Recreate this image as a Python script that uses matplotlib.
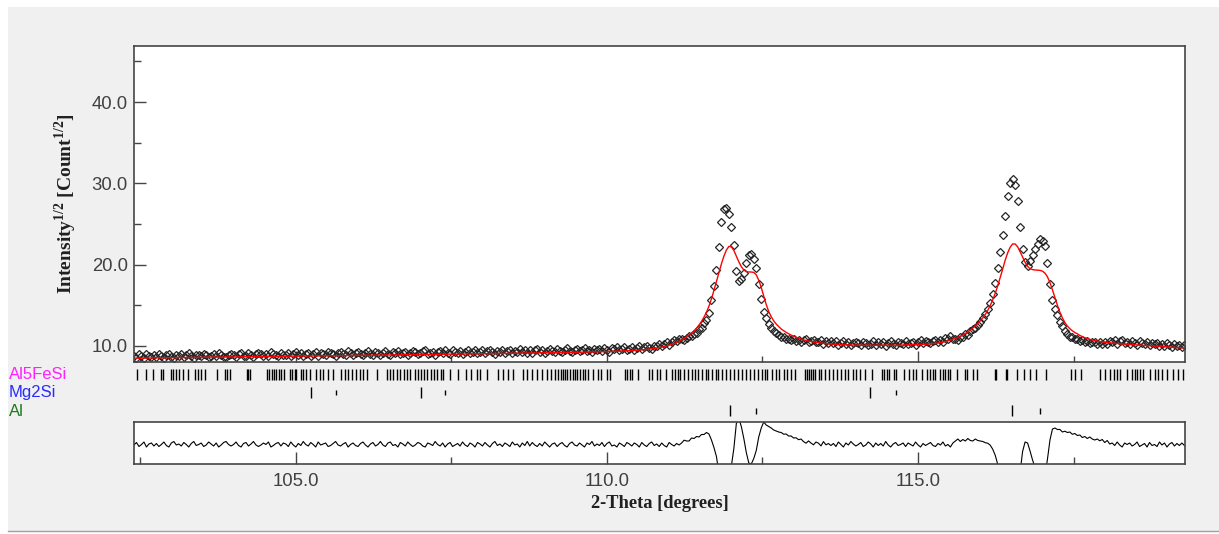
import numpy as np
import matplotlib.pyplot as plt
from matplotlib.patches import Rectangle
from matplotlib.lines import Line2D

plt.rcParams["font.family"] = ["Liberation Sans", "DejaVu Sans"]
plt.rcParams["mathtext.fontset"] = "custom"
plt.rcParams["mathtext.rm"] = "Liberation Serif:bold"
plt.rcParams["mathtext.bf"] = "Liberation Serif:bold"

# ---- data -------------------------------------------------------------
# scan: start and step of 2-theta (degrees)
tt_start = 102.40
tt_step = 0.04

# observed intensity^(1/2)
y_obs = [
    8.80, 8.55, 8.96, 8.76, 8.52, 9.02, 8.72, 8.63, 8.93, 8.69,
    8.99, 8.80, 8.55, 8.90, 9.06, 8.66, 8.52, 8.87, 8.77, 8.98,
    8.63, 8.84, 9.09, 8.74, 8.55, 8.95, 8.85, 8.71, 9.06, 8.92,
    8.62, 8.82, 9.03, 8.73, 9.13, 8.94, 8.69, 8.60, 8.90, 9.05,
    8.91, 8.66, 9.01, 9.17, 8.82, 8.73, 9.08, 8.88, 8.64, 8.99,
    9.14, 9.00, 8.80, 8.96, 8.71, 9.21, 9.07, 8.87, 8.77, 9.13,
    8.83, 8.94, 9.19, 8.74, 9.05, 9.25, 8.90, 9.11, 8.71, 9.02,
    9.17, 8.82, 9.03, 9.28, 8.78, 9.09, 8.99, 8.90, 9.25, 9.15,
    8.96, 8.76, 9.11, 9.22, 9.02, 8.88, 9.33, 9.08, 8.94, 9.19,
    9.29, 9.00, 8.85, 9.16, 9.36, 9.06, 8.92, 9.27, 9.13, 8.83,
    9.18, 9.34, 8.99, 8.90, 9.25, 9.15, 9.41, 8.96, 9.12, 9.32,
    8.92, 9.18, 9.38, 9.24, 8.99, 9.09, 9.35, 9.45, 9.06, 9.16,
    9.31, 8.92, 9.22, 9.38, 9.08, 9.49, 9.19, 9.04, 9.45, 9.30,
    9.16, 9.41, 9.01, 9.32, 9.47, 9.13, 9.28, 9.54, 9.09, 9.24,
    9.45, 9.10, 9.36, 9.56, 9.22, 9.02, 9.43, 9.28, 9.53, 9.19,
    9.34, 9.55, 9.10, 9.41, 9.31, 9.62, 9.22, 9.48, 9.08, 9.54,
    9.19, 9.45, 9.60, 9.31, 9.56, 9.17, 9.42, 9.68, 9.39, 9.29,
    9.64, 9.39, 9.25, 9.55, 9.71, 9.36, 9.22, 9.52, 9.63, 9.33,
    9.54, 9.74, 9.35, 9.51, 9.21, 9.67, 9.48, 9.63, 9.34, 9.75,
    9.46, 9.32, 9.73, 9.64, 9.85, 9.46, 9.62, 9.84, 9.45, 9.62,
    9.83, 9.55, 9.72, 9.99, 9.57, 9.85, 10.03, 9.76, 9.65, 10.04,
    9.94, 10.25, 9.96, 10.28, 10.51, 10.15, 10.45, 10.71, 10.58, 10.86,
    10.85, 10.75, 11.03, 11.25, 11.20, 11.53, 11.65, 12.08, 12.27, 12.80,
    13.20, 14.10, 15.60, 17.40, 19.40, 22.20, 25.20, 26.90, 27.00, 26.20,
    24.60, 22.40, 19.20, 18.00, 18.20, 19.00, 20.20, 21.20, 21.30, 20.70,
    19.60, 17.60, 15.80, 14.15, 13.40, 12.70, 12.20, 11.90, 11.60, 11.40,
    11.15, 11.10, 10.88, 10.90, 10.74, 10.80, 10.65, 10.72, 10.55, 10.72,
    10.80, 10.50, 10.66, 10.77, 10.44, 10.52, 10.75, 10.28, 10.57, 10.41,
    10.59, 10.37, 10.65, 10.18, 10.42, 10.65, 10.24, 10.43, 10.07, 10.31,
    10.50, 10.35, 10.14, 10.54, 10.38, 10.08, 10.28, 10.58, 10.18, 10.43,
    10.23, 10.48, 10.03, 10.39, 10.59, 10.29, 10.15, 10.45, 10.36, 10.21,
    10.57, 10.23, 10.39, 10.55, 10.16, 10.47, 10.69, 10.35, 10.57, 10.44,
    10.31, 10.64, 10.78, 10.52, 10.72, 10.48, 10.95, 10.88, 11.22, 10.92,
    10.83, 10.76, 11.15, 11.11, 11.44, 11.39, 11.81, 12.10, 12.16, 12.60,
    13.00, 13.40, 13.95, 14.50, 15.30, 16.40, 17.80, 19.60, 21.60, 23.70,
    26.00, 28.40, 30.00, 30.50, 29.80, 27.80, 24.60, 21.90, 20.30, 19.90,
    20.40, 21.20, 21.90, 22.60, 23.10, 22.90, 22.30, 20.20, 17.60, 15.60,
    14.55, 13.75, 12.90, 12.45, 11.80, 11.50, 11.12, 11.09, 10.81, 10.85,
    10.60, 10.70, 10.47, 10.56, 10.31, 10.43, 10.46, 10.30, 10.43, 10.25,
    10.51, 10.27, 10.59, 10.46, 10.68, 10.30, 10.58, 10.75, 10.33, 10.46,
    10.29, 10.57, 10.40, 10.13, 10.56, 10.39, 10.22, 10.55, 10.08, 10.36,
    10.24, 10.42, 9.95, 10.23, 10.01, 10.39, 10.07, 9.90, 10.23, 9.96,
    10.14, 9.87, 10.10,
]

# calculated profile
y_calc = [
    8.50, 8.50, 8.51, 8.51, 8.52, 8.52, 8.52, 8.53, 8.53, 8.54,
    8.54, 8.55, 8.55, 8.55, 8.56, 8.56, 8.57, 8.57, 8.57, 8.58,
    8.58, 8.59, 8.59, 8.59, 8.60, 8.60, 8.60, 8.61, 8.61, 8.62,
    8.62, 8.62, 8.63, 8.63, 8.63, 8.64, 8.64, 8.65, 8.65, 8.65,
    8.66, 8.66, 8.66, 8.67, 8.67, 8.68, 8.68, 8.68, 8.69, 8.69,
    8.69, 8.70, 8.70, 8.71, 8.71, 8.71, 8.72, 8.72, 8.72, 8.73,
    8.73, 8.74, 8.74, 8.74, 8.75, 8.75, 8.75, 8.76, 8.76, 8.77,
    8.77, 8.77, 8.78, 8.78, 8.78, 8.79, 8.79, 8.80, 8.80, 8.80,
    8.81, 8.81, 8.81, 8.82, 8.82, 8.83, 8.83, 8.83, 8.84, 8.84,
    8.84, 8.85, 8.85, 8.86, 8.86, 8.86, 8.87, 8.87, 8.88, 8.88,
    8.88, 8.89, 8.89, 8.90, 8.90, 8.90, 8.91, 8.91, 8.92, 8.92,
    8.92, 8.93, 8.93, 8.94, 8.94, 8.94, 8.95, 8.95, 8.96, 8.96,
    8.96, 8.97, 8.97, 8.98, 8.98, 8.99, 8.99, 8.99, 9.00, 9.00,
    9.01, 9.01, 9.01, 9.02, 9.02, 9.03, 9.03, 9.04, 9.04, 9.04,
    9.05, 9.05, 9.06, 9.06, 9.07, 9.07, 9.08, 9.08, 9.08, 9.09,
    9.09, 9.10, 9.10, 9.11, 9.11, 9.12, 9.12, 9.13, 9.13, 9.14,
    9.14, 9.15, 9.15, 9.16, 9.16, 9.17, 9.17, 9.18, 9.19, 9.19,
    9.19, 9.19, 9.20, 9.20, 9.21, 9.21, 9.22, 9.22, 9.23, 9.23,
    9.24, 9.24, 9.25, 9.26, 9.26, 9.27, 9.28, 9.28, 9.29, 9.30,
    9.31, 9.32, 9.33, 9.34, 9.35, 9.36, 9.37, 9.39, 9.40, 9.42,
    9.43, 9.45, 9.47, 9.49, 9.52, 9.55, 9.58, 9.61, 9.65, 9.69,
    9.74, 9.80, 9.86, 9.93, 10.01, 10.10, 10.20, 10.31, 10.43, 10.56,
    10.75, 10.93, 11.13, 11.35, 11.60, 11.88, 12.20, 12.58, 13.02, 13.55,
    14.15, 14.90, 15.80, 16.85, 17.95, 19.05, 20.10, 21.05, 21.80, 22.25,
    22.20, 21.75, 21.05, 20.35, 19.75, 19.35, 19.15, 19.10, 19.10, 19.05,
    18.75, 18.10, 17.20, 16.15, 15.10, 14.25, 13.60, 13.10, 12.70, 12.40,
    12.10, 11.88, 11.68, 11.50, 11.34, 11.20, 11.07, 10.95, 10.85, 10.76,
    10.68, 10.61, 10.55, 10.49, 10.44, 10.40, 10.36, 10.32, 10.29, 10.26,
    10.24, 10.22, 10.20, 10.18, 10.17, 10.15, 10.14, 10.13, 10.12, 10.11,
    10.10, 10.10, 10.09, 10.09, 10.08, 10.08, 10.08, 10.08, 10.08, 10.08,
    10.08, 10.08, 10.08, 10.09, 10.09, 10.09, 10.10, 10.10, 10.11, 10.11,
    10.12, 10.13, 10.14, 10.15, 10.16, 10.17, 10.19, 10.20, 10.22, 10.24,
    10.26, 10.29, 10.33, 10.37, 10.42, 10.48, 10.55, 10.63, 10.72, 10.82,
    10.93, 11.06, 11.20, 11.36, 11.54, 11.74, 11.96, 12.20, 12.46, 12.75,
    13.10, 13.45, 13.88, 14.38, 14.98, 15.68, 16.48, 17.38, 18.40, 19.45,
    20.55, 21.45, 22.15, 22.55, 22.55, 22.20, 21.60, 20.95, 20.30, 19.80,
    19.50, 19.40, 19.35, 19.33, 19.30, 19.20, 18.95, 18.50, 17.80, 16.90,
    15.95, 15.00, 14.15, 13.45, 12.88, 12.45, 12.12, 11.86, 11.66, 11.50,
    11.30, 11.15, 11.02, 10.91, 10.81, 10.73, 10.66, 10.60, 10.55, 10.50,
    10.46, 10.42, 10.39, 10.36, 10.33, 10.30, 10.28, 10.25, 10.23, 10.21,
    10.19, 10.17, 10.15, 10.13, 10.11, 10.09, 10.07, 10.05, 10.03, 10.01,
    9.99, 9.97, 9.95, 9.93, 9.91, 9.89, 9.87, 9.85, 9.83, 9.81,
    9.79, 9.77, 9.75,
]

# reflection positions (2-theta) per phase
al5fesi_pos = [
    102.45, 102.60, 102.71, 102.83, 102.87, 103.00, 103.03, 103.08, 103.12, 103.19,
    103.27, 103.38, 103.43, 103.48, 103.54, 103.73, 103.86, 103.89, 103.94, 104.21,
    104.23, 104.27, 104.53, 104.57, 104.61, 104.65, 104.69, 104.73, 104.77, 104.81,
    104.91, 104.94, 104.98, 105.01, 105.08, 105.12, 105.17, 105.23, 105.33, 105.39,
    105.44, 105.52, 105.60, 105.73, 105.79, 105.84, 105.90, 105.96, 106.03, 106.08,
    106.15, 106.30, 106.46, 106.51, 106.56, 106.62, 106.67, 106.74, 106.79, 106.84,
    106.91, 106.97, 107.01, 107.06, 107.11, 107.17, 107.22, 107.27, 107.33, 107.37,
    107.48, 107.61, 107.74, 107.81, 107.91, 107.96, 108.07, 108.25, 108.33, 108.41,
    108.49, 108.65, 108.72, 108.80, 108.88, 108.95, 109.03, 109.10, 109.16, 109.22,
    109.27, 109.30, 109.32, 109.36, 109.41, 109.45, 109.49, 109.52, 109.57, 109.61,
    109.65, 109.70, 109.78, 109.86, 109.90, 110.00, 110.05, 110.29, 110.32, 110.37,
    110.40, 110.50, 110.68, 110.72, 110.80, 110.85, 110.95, 111.04, 111.09, 111.15,
    111.18, 111.24, 111.31, 111.36, 111.41, 111.47, 111.52, 111.59, 111.63, 111.69,
    111.75, 111.79, 111.85, 111.92, 111.98, 112.04, 112.11, 112.17, 112.23, 112.30,
    112.36, 112.42, 112.49, 112.54, 112.58, 112.65, 112.71, 112.77, 112.84, 112.90,
    112.96, 113.03, 113.18, 113.22, 113.25, 113.28, 113.31, 113.34, 113.41, 113.44,
    113.50, 113.57, 113.63, 113.69, 113.76, 113.82, 113.88, 113.95, 114.01, 114.07,
    114.14, 114.26, 114.42, 114.45, 114.50, 114.53, 114.62, 114.65, 114.78, 114.86,
    114.92, 114.97, 115.06, 115.14, 115.19, 115.24, 115.27, 115.35, 115.40, 115.44,
    115.48, 115.51, 115.62, 115.75, 115.79, 115.88, 115.95, 116.24, 116.26, 116.41,
    116.43, 116.59, 116.70, 116.80, 116.89, 117.05, 117.46, 117.53, 117.62, 117.93,
    118.01, 118.09, 118.15, 118.20, 118.25, 118.36, 118.44, 118.49, 118.52, 118.56,
    118.62, 118.73, 118.81, 118.86, 118.92, 119.00, 119.10, 119.18, 119.26,
]
mg2si_ka1 = [105.25, 107.01, 114.22]
mg2si_ka2 = [105.65, 107.40, 114.64]
al_ka1 = [111.98, 116.51]
al_ka2 = [112.40, 116.96]

phase_names = ["Al5FeSi", "Mg2Si", "Al"]
phase_colors = ["#ff22ff", "#2a2aff", "#1f7a1f"]

x_major = [105.0, 110.0, 115.0]
x_minor = [102.5, 107.5, 112.5, 117.5]
y_major = [10.0, 20.0, 30.0, 40.0]
y_minor = [15.0, 25.0, 35.0, 45.0]

# ---- derived ----------------------------------------------------------
obs = np.array(y_obs)
calc = np.array(y_calc)
tt = tt_start + tt_step * np.arange(len(obs))
diff = calc - obs

# ---- figure -----------------------------------------------------------
W, H = 1219, 534
fig = plt.figure(figsize=(W / 100, H / 100), dpi=100, facecolor="white")
fig.add_artist(Rectangle((8 / W, 1 - 531 / H), 1 - 8 / W, 524 / H,
                         transform=fig.transFigure, facecolor="#f0f0f0",
                         edgecolor="none", zorder=-10))
fig.add_artist(Line2D([8 / W, 1], [1 - 531 / H] * 2, transform=fig.transFigure,
                      color="#a0a0a0", lw=1))


def px_box(left, top, right, bottom):
    return [left / W, 1 - bottom / H, (right - left) / W, (bottom - top) / H]


ax = fig.add_axes(px_box(134, 46, 1185, 362))
ax_tk = fig.add_axes(px_box(134, 365, 1185, 420))
ax_d = fig.add_axes(px_box(134, 422, 1185, 464))

xlim = (102.40, 119.29)
spine_col = "#454545"
lab_col = "#404040"

# main pattern
ax.plot(tt, obs, ls="none", marker="D", ms=3.6, mfc="none", mec="#262626", mew=0.9)
ax.plot(tt, calc, color="red", lw=1.0)
ax.set_xlim(*xlim)
ax.set_ylim(8.03, 46.9)
ax.set_yticks(y_major)
ax.set_yticklabels([f"{v:.1f}" for v in y_major])
ax.set_yticks(y_minor, minor=True)
ax.set_xticks(x_major)
ax.set_xticks(x_minor, minor=True)
ax.tick_params(axis="x", which="both", direction="in", labelbottom=False,
               color=spine_col, width=1.0)
ax.tick_params(axis="x", which="major", length=8)
ax.tick_params(axis="x", which="minor", length=4.5)
ax.tick_params(axis="y", which="both", direction="in", color=spine_col, width=1.0,
               labelsize=13.3, labelcolor=lab_col, pad=4.5)
ax.tick_params(axis="y", which="major", length=8.6)
ax.tick_params(axis="y", which="minor", length=5)

# reflection marker rows
ax_tk.set_xlim(*xlim)
ax_tk.set_ylim(0, 3)
ax_tk.axis("off")
ax_tk.vlines(al5fesi_pos, 2.2, 2.8, color="black", lw=1.0)
ax_tk.vlines(mg2si_ka1, 1.2, 1.8, color="black", lw=1.0)
ax_tk.vlines(mg2si_ka2, 1.35, 1.65, color="black", lw=1.0)
ax_tk.vlines(al_ka1, 0.2, 0.8, color="black", lw=1.0)
ax_tk.vlines(al_ka2, 0.35, 0.65, color="black", lw=1.0)

for name, col, ypx in zip(phase_names, phase_colors, [374.5, 393, 411.5]):
    fig.text(9 / W, 1 - ypx / H, name, color=col, fontsize=12, ha="left", va="center")

# difference curve
ax_d.plot(tt, diff, color="black", lw=0.8)
ax_d.set_xlim(*xlim)
ax_d.set_ylim(-2.2, 2.0)
ax_d.set_yticks([])
ax_d.set_xticks(x_major)
ax_d.set_xticklabels([f"{v:.1f}" for v in x_major])
ax_d.set_xticks(x_minor, minor=True)
ax_d.tick_params(axis="x", which="both", direction="in", color=spine_col, width=1.0,
                 labelsize=13.3, labelcolor=lab_col, pad=6.5)
ax_d.tick_params(axis="x", which="major", length=8.6)
ax_d.tick_params(axis="x", which="minor", length=5)

for a in (ax, ax_d):
    for s in a.spines.values():
        s.set_color(spine_col)
        s.set_linewidth(1.2)
    a.set_facecolor("white")

fig.text(66 / W, 1 - 204 / H, r"Intensity$^{1/2}$ [Count$^{1/2}$]", rotation=90,
         ha="center", va="center", fontsize=14, fontweight="bold",
         family="Liberation Serif", color="#202020")
fig.text(659.5 / W, 1 - 503 / H, "2-Theta [degrees]", ha="center", va="center",
         fontsize=13.3, fontweight="bold", family="Liberation Serif", color="#202020")

fig.savefig("out.png", dpi=100, facecolor=fig.get_facecolor())
